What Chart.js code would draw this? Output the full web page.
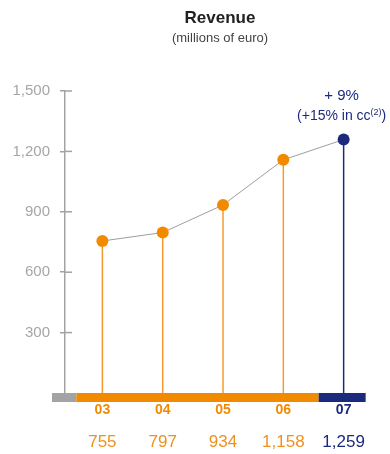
<!DOCTYPE html>
<html>
<head>
<meta charset="utf-8">
<script src="https://cdn.jsdelivr.net/npm/chart.js@4/dist/chart.umd.min.js"></script>
<style>
  html, body { margin: 0; padding: 0; background: #fff; }
  canvas { display: block; }
</style>
</head>
<body>
<canvas id="c" width="390" height="454"></canvas>
<script>
// ---- data ----
const categories = ['03', '04', '05', '06', '07'];
const revenue = [755, 797, 934, 1158, 1259];
const valueLabels = ['755', '797', '934', '1,158', '1,259'];
const yTicks = [300, 600, 900, 1200, 1500];
const highlightIndex = 4;
const annotationMain = '+ 9%';
const annotationSub = '(+15% in cc';
const annotationSup = '(2)';
const annotationEnd = ')';

// ---- styles ----
const ORANGE = '#F28A00';
const ORANGE_TXT = '#F0901E';
const NAVY = '#1C2A7E';
const GRAY = '#A3A3A3';
const colorFor = i => (i === highlightIndex ? NAVY : ORANGE);

Chart.defaults.font.family = "'Liberation Sans', Arial, sans-serif";

const decor = {
  id: 'decor',
  beforeDatasetsDraw(chart) {
    const ctx = chart.ctx;
    const xs = chart.scales.x, ys = chart.scales.y;
    const y0 = ys.getPixelForValue(0);
    ctx.save();
    // stems
    revenue.forEach((v, i) => {
      const px = xs.getPixelForValue(i);
      ctx.strokeStyle = i === highlightIndex ? NAVY : '#F39A2E';
      ctx.lineWidth = 1.5;
      ctx.beginPath();
      ctx.moveTo(px, ys.getPixelForValue(v));
      ctx.lineTo(px, y0);
      ctx.stroke();
    });
    // inner tick halves
    ctx.strokeStyle = GRAY;
    ctx.lineWidth = 1.5;
    yTicks.forEach(t => {
      const py = ys.getPixelForValue(t);
      ctx.beginPath();
      ctx.moveTo(ys.right, py);
      ctx.lineTo(ys.right + 7, py);
      ctx.stroke();
    });
    ctx.restore();
  },
  afterDraw(chart) {
    const ctx = chart.ctx;
    const xs = chart.scales.x, ys = chart.scales.y;
    const y0 = ys.getPixelForValue(0);
    const first = xs.getPixelForValue(0);
    const last = xs.getPixelForValue(revenue.length - 1);
    ctx.save();
    // bottom band
    const bandH = 9;
    ctx.fillStyle = GRAY;
    ctx.fillRect(ys.right - 13, y0, first - 26 - (ys.right - 13), bandH);
    ctx.fillStyle = ORANGE;
    ctx.fillRect(first - 26, y0, (last - 25) - (first - 26), bandH);
    ctx.fillStyle = NAVY;
    ctx.fillRect(last - 25, y0, 47, bandH);
    // category labels and values
    ctx.textAlign = 'center';
    ctx.textBaseline = 'middle';
    categories.forEach((c, i) => {
      const px = xs.getPixelForValue(i);
      ctx.fillStyle = i === highlightIndex ? NAVY : ORANGE;
      ctx.font = "bold 14px 'Liberation Sans', Arial, sans-serif";
      ctx.fillText(c, px, y0 + 17);
      ctx.fillStyle = i === highlightIndex ? NAVY : ORANGE_TXT;
      ctx.font = "17px 'Liberation Sans', Arial, sans-serif";
      ctx.fillText(valueLabels[i], px, y0 + 49);
    });
    // annotation above highlighted point
    const hx = xs.getPixelForValue(highlightIndex) - 2;
    const hy = ys.getPixelForValue(revenue[highlightIndex]);
    ctx.fillStyle = NAVY;
    ctx.font = "15px 'Liberation Sans', Arial, sans-serif";
    ctx.fillText(annotationMain, hx, hy - 44);
    const f1 = "14px 'Liberation Sans', Arial, sans-serif";
    const f2 = "9px 'Liberation Sans', Arial, sans-serif";
    ctx.font = f1; const w1 = ctx.measureText(annotationSub).width;
    const w3 = ctx.measureText(annotationEnd).width;
    ctx.font = f2; const w2 = ctx.measureText(annotationSup).width;
    let sx = hx - (w1 + w2 + w3) / 2;
    const ly = hy - 23;
    ctx.textAlign = 'left';
    ctx.font = f1; ctx.fillText(annotationSub, sx, ly); sx += w1;
    ctx.font = f2; ctx.fillText(annotationSup, sx, ly - 4); sx += w2;
    ctx.font = f1; ctx.fillText(annotationEnd, sx, ly);
    ctx.restore();
  }
};

new Chart(document.getElementById('c'), {
  type: 'line',
  data: {
    datasets: [{
      data: revenue.map((v, i) => ({ x: i, y: v })),
      borderColor: '#9E9E9E',
      borderWidth: 1,
      pointRadius: 6,
      pointHoverRadius: 6,
      pointBorderWidth: 0,
      pointBackgroundColor: revenue.map((v, i) => colorFor(i)),
      pointBorderColor: revenue.map((v, i) => colorFor(i)),
      tension: 0,
      clip: false
    }]
  },
  options: {
    responsive: false,
    animation: false,
    events: [],
    layout: { padding: { left: 0, right: 15, top: 0, bottom: 61 } },
    plugins: {
      legend: { display: false },
      tooltip: { enabled: false },
      title: {
        display: true,
        text: 'Revenue',
        color: '#222',
        fullSize: false,
        font: { size: 17, weight: 'bold' },
        padding: { top: 8, bottom: 2 }
      },
      subtitle: {
        display: true,
        text: '(millions of euro)',
        color: '#444',
        fullSize: false,
        font: { size: 13 },
        padding: { top: 0, bottom: 45 }
      }
    },
    scales: {
      x: {
        type: 'linear',
        display: false,
        min: -0.62,
        max: 4.52
      },
      y: {
        min: 0,
        max: 1500,
        afterFit(s) { s.width = 65; },
        afterBuildTicks(s) { s.ticks = yTicks.map(v => ({ value: v })); },
        border: { display: true, color: GRAY, width: 1.5 },
        grid: { drawOnChartArea: false, color: GRAY, lineWidth: 1.5, tickLength: 5 },
        ticks: { color: '#A6A6A6', font: { size: 15 }, padding: 10 }
      }
    }
  },
  plugins: [decor]
});
</script>
</body>
</html>
